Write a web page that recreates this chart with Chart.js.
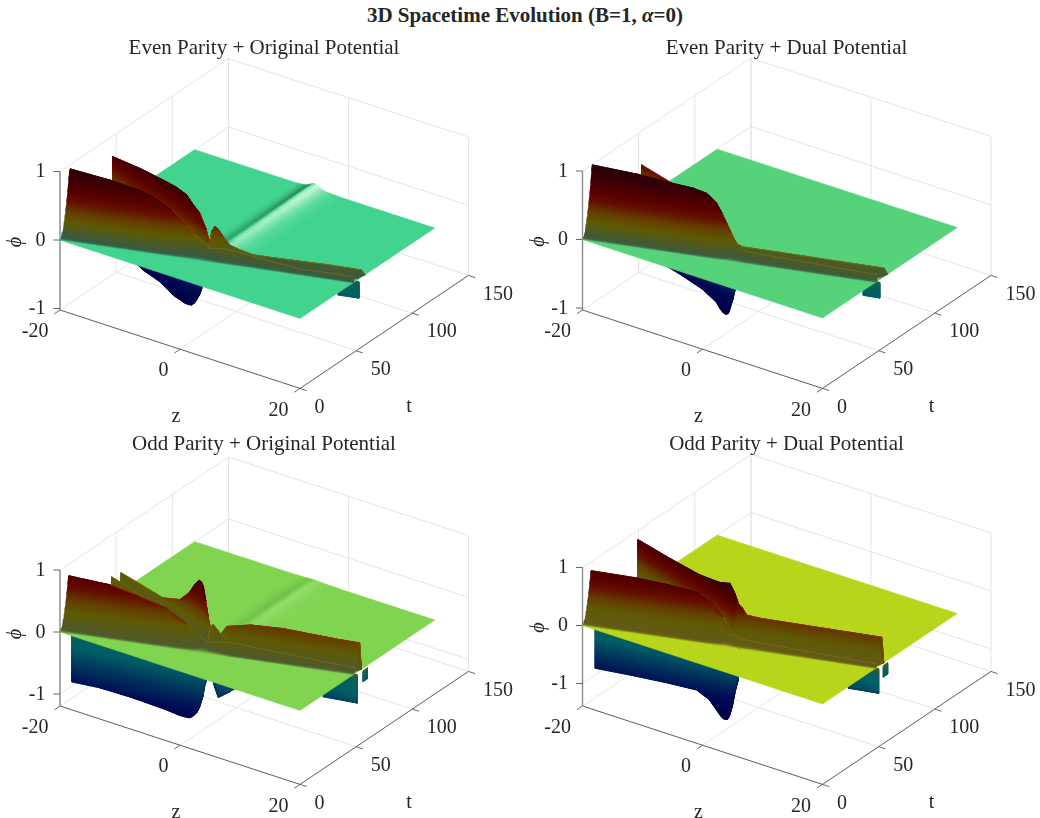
<!DOCTYPE html>
<html>
<head>
<meta charset="utf-8">
<title>3D Spacetime Evolution</title>
<script src="https://cdn.jsdelivr.net/npm/chart.js@4/dist/chart.umd.min.js"></script>
<style>
html, body { margin: 0; padding: 0; background: #fff; }
#page { position: relative; width: 1040px; height: 818px; overflow: hidden; }
canvas { position: absolute; }
#suptitle { position: absolute; left: 0; width: 1050px; top: 3px; text-align: center;
  font: bold 21px "Liberation Serif", serif; color: #262626; }
</style>
</head>
<body>
<div id="page">
  <div id="suptitle">3D Spacetime Evolution (B=1, <i>α</i>=0)</div>
  <canvas id="c1" width="520" height="408" style="left:0;top:20px"></canvas>
  <canvas id="c2" width="520" height="408" style="left:520px;top:20px"></canvas>
  <canvas id="c3" width="520" height="390" style="left:0;top:428px"></canvas>
  <canvas id="c4" width="520" height="390" style="left:520px;top:428px"></canvas>
</div>
<script>
// axis ticks
var zTicks = [-20, 0, 20];
var tTicks = [0, 50, 100, 150];
var phiTicks = [-1, 0, 1];

// surface extent
var sheetZ = [-20, 20];
var sheetT = [0, 120];

// ridge along z=0 left behind after the collision
var stripeZ = [-3, -2.5, -2, -1.6, -1.2, -0.9, -0.6, -0.3, 0, 0.3, 0.6, 1, 1.4, 1.9, 2.5, 3.2, 4];
var stripePhi = [0, 0.003, 0.008, 0.015, 0.025, 0.04, 0.055, 0.07, 0.075, 0.065, 0.05, 0.035, 0.02, 0.012, 0.006, 0.002, 0];
var stripeShade = [-0.05, -0.15, -0.3, -0.45, -0.6, -0.55, -0.35, 0.1, 0.6, 0.8, 0.7, 0.5, 0.35, 0.22, 0.12, 0.05];
var stripeT = [36, 42, 48, 56, 64, 72, 80, 88, 96, 104, 112, 120];
var evenOrigStripeGain = [0.35, 0.6, 0.7, 0.72, 0.75, 0.8, 0.85, 0.9, 0.95, 1, 1];
var oddOrigStripeGain = [0.05, 0.1, 0.15, 0.18, 0.2, 0.22, 0.25, 0.25, 0.25, 0.22, 0.2];

// Even + Original
var eoAz = [-20, -14.2, -10.4, -8.7, -7.2, -5.93, -4.8, -3.9, -3.1, -2.4, -1.7, -0.5, 2, 5, 12.5, 20];
var eoAfoot = [0, 6.9, 11.3, 13.3, 15, 16.5, 17.9, 18.9, 19.9, 20.7, 21.5, 22.9, 25.9, 29.4, 38.2, 47];
var eoAtop = [9, 14.9, 19.3, 21.3, 23, 24.5, 25.9, 26.9, 27.9, 28.7, 29.5, 28.9, 29.9, 33.4, 40.2, 48];
var eoAphi = [0.94, 0.87, 0.79, 0.73, 0.65, 0.57, 0.47, 0.38, 0.28, 0.23, 0.18, 0.12, 0.17, 0.13, 0.065, 0.083];
var eoBz = [-20, -14.2, -8.5, -6.5, -4.2, -2.9, -1.4, 0, 0.5];
var eoBt = [47, 40.2, 33.5, 31.1, 28.4, 26.9, 25.1, 23.5, 22.9];
var eoBphi = [0.7, 0.77, 0.81, 0.82, 0.8, 0.72, 0.65, 0.46, 0.34];
var eoCz = [-1.2, -0.8, -0.5, -0.05, 0.4, 1.1, 2, 3.4, 5.2, 10.2, 15.6, 20, 20];
var eoCfoot = [22.1, 22.6, 22.9, 23.4, 24, 24.8, 25.9, 27.5, 29.6, 35.5, 41.8, 47, 58];
var eoCt = [30.1, 30.6, 30.9, 31.4, 32, 32.8, 33.9, 35.5, 37.6, 43.5, 49.8, 55, 58];
var eoCphi = [0.02, 0.15, 0.34, 0.43, 0.39, 0.29, 0.18, 0.135, 0.09, 0.095, 0.107, 0.1, 0];
var eoNz = [-19, -16.67, -13.03, -10.26, -7.7, -6.95, -6.3, -5.66, -5.2, -4.6, -4.1, -3.4];
var eoNt = [58.8, 56.1, 51.8, 48.6, 45.5, 44.7, 43.9, 43.1, 42.6, 41.9, 41.3, 40.5];
var eoNphi = [-0.9, -0.96, -0.98, -1.06, -1.07, -1.06, -1.04, -0.984, -0.92, -0.823, -0.71, -0.2];
var eoTz = [16.5, 20];
var eoTt = [52.5, 52.5];
var eoTphi = [-0.335, -0.28];

// Even + Dual
var edAz = [-20, -13.4, -9.3, -6.1, -4.3, -3.6, -2.9, -2.2, -1.5, -0.9, -0.2, 0.6, 1.8, 20];
var edAfoot = [0, 7.8, 12.6, 16.3, 18.4, 19.3, 20.1, 20.9, 21.7, 22.4, 23.3, 24.4, 25.6, 47];
var edAtop = [9, 15.8, 20.6, 24.3, 26.4, 27.3, 28.1, 28.9, 29.7, 30.4, 31.3, 30.4, 29.6, 49];
var edAphi = [0.99, 0.96, 0.91, 0.88, 0.835, 0.78, 0.71, 0.585, 0.44, 0.31, 0.17, 0.16, 0.12, 0.09];
var edBz = [-20, -14, -9, -5];
var edBt = [52.7, 45.7, 39.8, 35.1];
var edBphi = [0.51, 0.51, 0.5, 0.45];
var edCz = [-1.1, 0.7, 9.9, 20, 20];
var edCfoot = [22.2, 24.3, 35.1, 49, 58];
var edCt = [30.2, 32.3, 43.1, 55, 58];
var edCphi = [0.2, 0.13, 0.127, 0.12, 0];
var edNz = [-17.8, -13.2, -8.6, -5.7, -5, -4.3, -3.74, -3.2, -2.7, -2.2, -1.8, -1.2];
var edNt = [57.4, 52, 46.6, 43.2, 42.4, 41.6, 40.9, 40.3, 39.7, 39.1, 38.6, 37.9];
var edNphi = [-0.9, -0.9, -0.92, -0.99, -1.05, -1.08, -1.08, -1.04, -0.91, -0.78, -0.64, -0.2];
var edTz = [17.2, 20];
var edTt = [51, 51];
var edTphi = [-0.31, -0.27];

// Odd + Original
var ooAz = [-20, -14.4, -10.3, -6.7, -3.9, -2.1, -1.2, 3.2, 10, 20];
var ooAfoot = [0, 6.6, 11.4, 15.6, 18.9, 21, 22.1, 27.3, 35.3, 47];
var ooAtop = [8, 14.6, 19.4, 23.6, 26.9, 29, 30.1, 30.3, 38.3, 50];
var ooAphi = [0.81, 0.76, 0.64, 0.52, 0.32, 0.16, 0.07, 0.19, 0.14, 0.076];
var ooCz = [-1.1, -0.7, -0.3, 0.6, 2, 4];
var ooCt = [30.2, 30.7, 31.1, 32.2, 33.9, 36.2];
var ooCphi = [0.02, 0.3, 0.37, 0.245, 0.11, 0.03];
var ooDz = [0.6, 1.1, 1.8, 5, 9.5, 16.3, 20, 20];
var ooDfoot = [24.2, 24.8, 25.6, 29.4, 34.7, 42.7, 50, 54.5];
var ooDt = [30.5, 31.1, 31.9, 35.7, 41, 49, 53.3, 54.5];
var ooDphi = [0.05, 0.27, 0.39, 0.47, 0.49, 0.45, 0.44, 0];
var ooEz = [-20, -15.3, -11.05, -7.4, -5.3, -4.2, -3.3, -2.8, -2.4, -1.9, -1.4, -1, -0.6];
var ooEt = [54.4, 48.9, 43.9, 39.6, 37.1, 35.8, 34.8, 34.2, 33.7, 33.1, 32.5, 32.1, 31.6];
var ooEphi = [0.295, 0.3, 0.3, 0.44, 0.66, 0.84, 0.94, 0.935, 0.88, 0.67, 0.44, 0.3, 0.05];
var ooFz = [-20, -17.16, -13.3, -8];
var ooFt = [46, 42.7, 38.1, 31.9];
var ooFphi = [0.33, 0.33, 0.31, 0.3];
var ooNz = [-20, -15.83, -10.97, -6, -4.04, -3.1, -2.6, -2.1, -1.5, -1.1, -0.65, -0.4, -0.1, 0.2];
var ooNt = [10.4, 13.3, 16.7, 20.2, 21.6, 22.2, 22.6, 22.9, 23.35, 23.6, 23.95, 24.1, 24.3, 24.5];
var ooNphi = [-0.93, -0.93, -0.98, -1.06, -1.105, -1.11, -1.108, -1.07, -0.99, -0.89, -0.71, -0.55, -0.44, -0.1];
var ooMz = [0.5, 0.9, 1.6, 3.3, 4, 4.6];
var ooMt = [24.75, 25, 25.5, 26.7, 27.2, 27.6];
var ooMphi = [-0.1, -0.47, -0.685, -0.55, -0.49, -0.2];
var ooTz = [14.3, 20];
var ooTt = [51, 51];
var ooTphi = [-0.58, -0.5];
var ooSz = [20, 20];
var ooSt = [56, 60];
var ooSphi = [-0.22, -0.22];

// Odd + Dual
var odAz = [-20, -13.8, -9.3, -5.2, -3.4, -2, -0.85, 0.9, 2.7, 20];
var odAfoot = [0, 7.3, 12.6, 17.4, 19.5, 21.2, 22.5, 24.6, 26.7, 47];
var odAtop = [8, 15.3, 20.6, 25.4, 27.5, 29.2, 30.5, 28.6, 30.7, 48];
var odAphi = [0.84, 0.83, 0.79, 0.73, 0.61, 0.38, 0.115, 0.115, 0.09, 0.065];
var odDz = [-20, -13.16, -6.75, -2.5, -0.34, 0.7, 1.8];
var odDt = [49.4, 41.4, 33.8, 28.8, 26.3, 25.1, 23.8];
var odDphi = [0.84, 0.85, 0.88, 0.96, 1.05, 0.93, 0.72];
var odEz = [0.2, 1, 1.5, 3.3, 11.5, 20, 20];
var odEfoot = [23.7, 24.7, 25.3, 27.4, 37, 48, 54.5];
var odEt = [29.7, 30.7, 31.3, 33.4, 43, 53, 54.5];
var odEphi = [0.7, 0.6, 0.5, 0.48, 0.47, 0.46, 0];
var odNz = [-20, -14.84, -8.95, -5, -3.1, -1.6, -1.14, -0.7, -0.4, -0.1, 0.26, 0.6, 1.1, 1.5];
var odNt = [11.1, 14.7, 18.8, 21.6, 22.9, 24, 24.3, 24.6, 24.8, 25, 25.3, 25.5, 25.9, 26.2];
var odNphi = [-0.88, -0.87, -0.87, -0.886, -1.01, -1.23, -1.283, -1.29, -1.272, -1.19, -1.03, -0.81, -0.56, -0.1];
var odTz = [14.9, 20];
var odTt = [50, 50];
var odTphi = [-0.55, -0.465];
var odSz = [20, 20];
var odSt = [54, 58];
var odSphi = [-0.24, -0.24];

var serif = '"Liberation Serif", "Times New Roman", serif';
var gridColor = '#e4e4e4';

function mix(a, b, f) {
    return [a[0] + (b[0] - a[0]) * f, a[1] + (b[1] - a[1]) * f, a[2] + (b[2] - a[2]) * f];
}
function rgb(c) {
    return 'rgb(' + Math.round(c[0]) + ',' + Math.round(c[1]) + ',' + Math.round(c[2]) + ')';
}

// lit colormap: surface colour by height
function surfaceColor(phi, sheet) {
    var dark = [sheet[0] * 0.38 + 30, sheet[1] * 0.38 + 10, sheet[2] * 0.38 + 15];
    var stops;
    if (phi >= 0) {
        stops = [[0, sheet], [0.006, mix(sheet, dark, 0.7)], [0.02, dark], [0.12, mix(dark, [95, 90, 5], 0.5)],
            [0.22, [95, 90, 5]], [0.35, [100, 65, 0]], [0.5, [100, 15, 0]], [0.65, [85, 0, 0]], [0.8, [60, 0, 5]], [1.0, [40, 0, 10]], [2, [40, 0, 10]]];
    } else {
        phi = -phi;
        stops = [[0, sheet], [0.006, mix(sheet, dark, 0.7)], [0.02, dark], [0.12, [10, 95, 90]],
            [0.3, [0, 95, 102]], [0.55, [0, 50, 92]], [0.8, [0, 10, 85]], [1.05, [0, 0, 70]], [2, [0, 0, 70]]];
    }
    for (var i = 1; i < stops.length; i++) {
        if (phi <= stops[i][0]) {
            return mix(stops[i - 1][1], stops[i][1], (phi - stops[i - 1][0]) / (stops[i][0] - stops[i - 1][0]));
        }
    }
    return stops[stops.length - 1][1];
}

function bandLevels(start) {
    var out = [0, 0.004, 0.008, 0.012, 0.02, 0.03, 0.04, 0.05, 0.065, 0.08, 0.1, 0.12, 0.14, 0.16, 0.18];
    for (var l = 0.2; l < 1.4; l += 0.02) out.push(l);
    return out.filter(function (v) { return v >= start; });
}

function wall(z, foot, top, phi) {
    return { z: z, foot: foot, top: top, phi: phi };
}

function makeProjector(f) {
    return function (z, t, phi) {
        var a = z + 20;
        return { x: f.x0 + 6 * a + 1.123 * t, y: f.y0 + 1.96 * a - 0.753 * t - f.unit * phi };
    };
}

function polyDataset(pts, color) {
    return { data: pts, showLine: true, fill: 'shape', backgroundColor: color, borderColor: color,
        borderWidth: 0.6, pointRadius: 0, tension: 0 };
}
function lineDataset(pts, color, width) {
    return { data: pts, showLine: true, fill: false, borderColor: color, borderWidth: width, pointRadius: 0, tension: 0 };
}

// one polygon per height band, each reaching a few bands higher so the next
// band covers it and no seams show; colour follows phi up the wall
function wallDatasets(w, proj, sheet, colorScale, startLevel) {
    var out = [];
    var levels = bandLevels(startLevel);
    var sign = w.phi.reduce(function (s, v) { return s + v; }, 0) < 0 ? -1 : 1;
    function at(i, l) {
        var p = Math.abs(w.phi[i]);
        var f = p > 0 ? Math.min(l / p, 1) : 1;
        var t = w.foot[i] + (w.top[i] - w.foot[i]) * Math.sqrt(f);
        return proj(w.z[i], t, sign * Math.min(l, p));
    }
    var n = w.z.length;
    for (var k = 0; k < levels.length - 1; k++) {
        var lo = levels[k], hi = levels[Math.min(k + 3, levels.length - 1)];
        var color = rgb(surfaceColor(sign * (lo + levels[k + 1]) / 2 * colorScale, sheet));
        // only the columns that reach this band, or the ridge gets stroked in the band's colour
        var i = 0;
        while (i < n) {
            var from = i, found = false;
            while (i < n && Math.abs(w.phi[i]) > lo) { found = true; i++; }
            if (found) {
                var a = Math.max(from - 1, 0), b = Math.min(i, n - 1);
                var pts = [];
                for (var c = a; c <= b; c++) pts.push(at(c, lo));
                for (c = b; c >= a; c--) pts.push(at(c, hi));
                pts.push(pts[0]);
                out.push(polyDataset(pts, color));
            } else {
                i++;
            }
        }
    }
    return out;
}

// thin lit edge on top of a positive wall
function ridgeDatasets(w, proj, colorScale) {
    var out = [];
    for (var i = 0; i < w.z.length - 1; i++) {
        var p = (w.phi[i] + w.phi[i + 1]) / 2 * colorScale;
        var c = p > 0.6 ? 'rgba(90,5,0,0.5)' : p > 0.28 ? 'rgba(165,50,0,0.75)' : 'rgba(150,120,20,0.6)';
        out.push(lineDataset([proj(w.z[i], w.top[i], w.phi[i]), proj(w.z[i + 1], w.top[i + 1], w.phi[i + 1])], c, 0.8));
    }
    return out;
}

function stripeDatasets(proj, sheet, gain) {
    var out = [];
    for (var s = 0; s < stripeShade.length; s++) {
        for (var n = 0; n < stripeT.length - 1; n++) {
            var amt = stripeShade[s] * gain[n];
            var c = amt < 0 ? mix(sheet, [25, 85, 55], -amt) : mix(sheet, [225, 255, 232], amt);
            var h = gain[n];
            var pts = [
                proj(stripeZ[s], stripeT[n], stripePhi[s] * h),
                proj(stripeZ[s + 1], stripeT[n], stripePhi[s + 1] * h),
                proj(stripeZ[s + 1], stripeT[n + 1], stripePhi[s + 1] * h),
                proj(stripeZ[s], stripeT[n + 1], stripePhi[s] * h)
            ];
            pts.push(pts[0]);
            out.push(polyDataset(pts, rgb(c)));
        }
    }
    return out;
}

function boxDatasets(f, proj) {
    var out = [];
    var zMin = zTicks[0], zMax = zTicks[zTicks.length - 1];
    var tMax = tTicks[tTicks.length - 1];
    var phiTop = phiTicks[phiTicks.length - 1];
    var floor = (f.y0 - f.floorY) / f.unit;
    zTicks.forEach(function (z) {
        out.push(lineDataset([proj(z, 0, floor), proj(z, tMax, floor)], gridColor, 1));
        out.push(lineDataset([proj(z, tMax, floor), proj(z, tMax, phiTop)], gridColor, 1));
    });
    tTicks.forEach(function (t) {
        out.push(lineDataset([proj(zMin, t, floor), proj(zMax, t, floor)], gridColor, 1));
        out.push(lineDataset([proj(zMin, t, floor), proj(zMin, t, phiTop)], gridColor, 1));
    });
    phiTicks.forEach(function (p) {
        // a tick sitting on the floor has no separate grid line
        if ((p - floor) * f.unit < 3) return;
        out.push(lineDataset([proj(zMin, 0, p), proj(zMin, tMax, p)], gridColor, 1));
        out.push(lineDataset([proj(zMin, tMax, p), proj(zMax, tMax, p)], gridColor, 1));
    });
    // the three visible axes
    var axisColor = '#555555';
    out.push(lineDataset([proj(zMin, 0, floor), proj(zMin, 0, phiTop)], '#8c8c8c', 1.4));
    out.push(lineDataset([proj(zMin, 0, floor), proj(zMax, 0, floor)], axisColor, 0.9));
    out.push(lineDataset([proj(zMax, 0, floor), proj(zMax, tMax, floor)], axisColor, 0.9));
    zTicks.forEach(function (z) {
        out.push(lineDataset([proj(z, 0, floor), proj(z, -5, floor)], axisColor, 0.9));
    });
    tTicks.forEach(function (t) {
        out.push(lineDataset([proj(zMax, t, floor), proj(zMax + 1.1, t, floor)], axisColor, 0.9));
    });
    phiTicks.forEach(function (p) {
        out.push(lineDataset([proj(zMin, 0, p), proj(zMin - 0.74, -1.93, p)], axisColor, 0.9));
    });
    return out;
}

function drawPanel(id, f, title, sheet, colorScale, under, stripeGain, over) {
    var canvas = document.getElementById(id);
    var proj = makeProjector(f);
    var zMin = sheetZ[0], zMax = sheetZ[1], tA = sheetT[0], tB = sheetT[1];
    var ds = boxDatasets(f, proj);
    under.forEach(function (w) { ds = ds.concat(wallDatasets(w, proj, sheet, colorScale, 0.04)); });
    ds.push(polyDataset([proj(zMin, tA, 0), proj(zMax, tA, 0), proj(zMax, tB, 0), proj(zMin, tB, 0), proj(zMin, tA, 0)], rgb(sheet)));
    if (stripeGain) ds = ds.concat(stripeDatasets(proj, sheet, stripeGain));
    over.forEach(function (w, i) {
        // only the front wall fades into the sheet, the others stand behind it
        ds = ds.concat(wallDatasets(w, proj, sheet, colorScale, i === over.length - 1 ? 0 : 0.02));
        ds = ds.concat(ridgeDatasets(w, proj, colorScale));
    });
    // Chart.js paints the first dataset last
    ds.reverse();

    var textPlugin = {
        id: 'panelText',
        afterDraw: function (chart) {
            var ctx = chart.ctx;
            var floor = (f.y0 - f.floorY) / f.unit;
            var sx = chart.scales.x, sy = chart.scales.y;
            function put(s, x, y, align, font) {
                ctx.font = font || ('20px ' + serif);
                ctx.textAlign = align;
                ctx.textBaseline = 'middle';
                ctx.fillStyle = '#262626';
                ctx.fillText(s, sx.getPixelForValue(x), sy.getPixelForValue(y));
            }
            ctx.save();
            put(title, f.x0 + 204, f.floorY - 262, 'center', '21px ' + serif);
            zTicks.forEach(function (z) {
                var p = proj(z, 0, floor);
                put(String(z), p.x - 11.5, p.y + 22, 'right');
            });
            tTicks.forEach(function (t) {
                var p = proj(zTicks[2], t, floor);
                put(String(t), p.x + 14.5, p.y + 19, 'left');
            });
            phiTicks.forEach(function (v) {
                var p = proj(zTicks[0], 0, v);
                put(String(v), f.x0 - 14.5, p.y + 0.5, 'right');
            });
            put('z', f.x0 + 116, f.floorY + 107, 'center');
            put('t', f.x0 + 349, f.floorY + 97, 'center');
            ctx.translate(sx.getPixelForValue(f.x0 - 44), sy.getPixelForValue(f.y0 + 2));
            ctx.rotate(-Math.PI / 2);
            ctx.font = 'italic 20px ' + serif;
            ctx.textAlign = 'center';
            ctx.textBaseline = 'middle';
            ctx.fillStyle = '#262626';
            ctx.fillText('\u03D5', 0, 0);
            ctx.restore();
        }
    };

    new Chart(canvas, {
        type: 'scatter',
        data: { datasets: ds },
        plugins: [textPlugin],
        options: {
            responsive: false,
            animation: false,
            layout: { padding: 0 },
            plugins: { legend: { display: false }, tooltip: { enabled: false }, title: { display: false } },
            events: [],
            scales: {
                x: { type: 'linear', display: false, min: f.left, max: f.left + canvas.width },
                y: { type: 'linear', display: false, reverse: true, min: f.top, max: f.top + canvas.height }
            }
        }
    });
}

drawPanel('c1', { left: 0, top: 20, x0: 60, y0: 240, unit: 68.5, floorY: 310 },
    'Even Parity + Original Potential', [66, 212, 143], 1,
    [wall(eoNz, eoNt, eoNt, eoNphi), wall(eoTz, eoTt, eoTt, eoTphi)], evenOrigStripeGain,
    [wall(eoBz, eoBt, eoBt, eoBphi), wall(eoCz, eoCfoot, eoCt, eoCphi), wall(eoAz, eoAfoot, eoAtop, eoAphi)]);

drawPanel('c2', { left: 520, top: 20, x0: 582.5, y0: 239.5, unit: 68.5, floorY: 310 },
    'Even Parity + Dual Potential', [86, 211, 122], 1,
    [wall(edNz, edNt, edNt, edNphi), wall(edTz, edTt, edTt, edTphi)], null,
    [wall(edBz, edBt, edBt, edBphi), wall(edCz, edCfoot, edCt, edCphi), wall(edAz, edAfoot, edAtop, edAphi)]);

drawPanel('c3', { left: 0, top: 428, x0: 60, y0: 632, unit: 62, floorY: 706 },
    'Odd Parity + Original Potential', [128, 212, 80], 0.8,
    [wall(ooNz, ooNt, ooNt, ooNphi), wall(ooMz, ooMt, ooMt, ooMphi), wall(ooTz, ooTt, ooTt, ooTphi), wall(ooSz, ooSt, ooSt, ooSphi)], oddOrigStripeGain,
    [wall(ooEz, ooEt, ooEt, ooEphi), wall(ooFz, ooFt, ooFt, ooFphi), wall(ooDz, ooDfoot, ooDt, ooDphi), wall(ooCz, ooCt, ooCt, ooCphi), wall(ooAz, ooAfoot, ooAtop, ooAphi)]);

drawPanel('c4', { left: 520, top: 428, x0: 582.5, y0: 625.5, unit: 58, floorY: 706 },
    'Odd Parity + Dual Potential', [183, 214, 27], 0.85,
    [wall(odNz, odNt, odNt, odNphi), wall(odTz, odTt, odTt, odTphi), wall(odSz, odSt, odSt, odSphi)], null,
    [wall(odDz, odDt, odDt, odDphi), wall(odEz, odEfoot, odEt, odEphi), wall(odAz, odAfoot, odAtop, odAphi)]);
</script>
</body>
</html>
